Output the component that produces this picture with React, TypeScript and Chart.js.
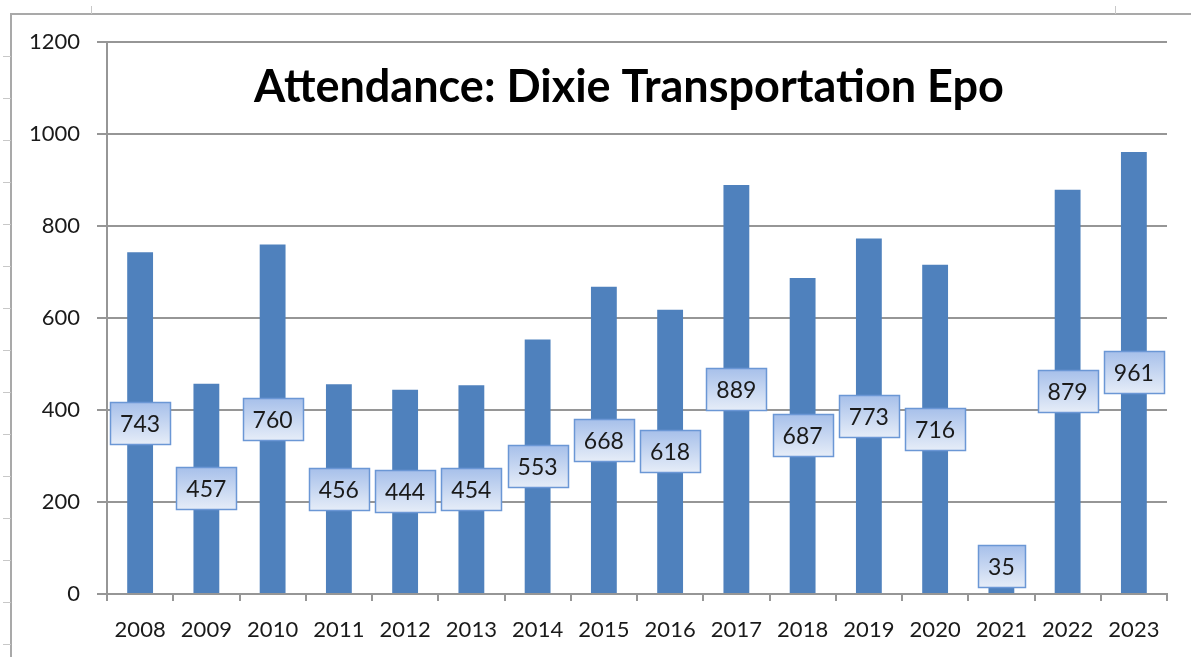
import React, { useEffect, useRef } from "react";
import { Chart, registerables } from "chart.js";

Chart.register(...registerables);

const years: string[] = ["2008", "2009", "2010", "2011", "2012", "2013", "2014", "2015", "2016", "2017", "2018", "2019", "2020", "2021", "2022", "2023"];
const attendance: number[] = [743, 457, 760, 456, 444, 454, 553, 668, 618, 889, 687, 773, 716, 35, 879, 961];
const chartTitle = "Attendance: Dixie Transportation Epo";

const FONT = "Lato, Carlito, Calibri, 'Open Sans', sans-serif";

const framePlugin = {
  id: "frame",
  beforeDraw(chart: any) {
    const ctx = chart.ctx;
    ctx.save();
    ctx.fillStyle = "#ffffff";
    ctx.fillRect(0, 0, chart.width, chart.height);
    ctx.strokeStyle = "#a9a9a9";
    ctx.lineWidth = 2;
    ctx.beginPath();
    ctx.moveTo(11, chart.height);
    ctx.lineTo(11, 14);
    ctx.lineTo(chart.width, 14);
    ctx.stroke();
    ctx.strokeStyle = "#c8c8c8";
    ctx.lineWidth = 1;
    ctx.beginPath();
    for (let y = 56; y < chart.height; y += 42) {
      ctx.moveTo(3, y + 0.5);
      ctx.lineTo(11, y + 0.5);
    }
    [91, 1115].forEach((x) => {
      ctx.moveTo(x + 0.5, 6);
      ctx.lineTo(x + 0.5, 14);
    });
    ctx.stroke();
    ctx.restore();
  },
};

const titlePlugin = {
  id: "overlayTitle",
  afterDraw(chart: any) {
    const ctx = chart.ctx;
    const a = chart.chartArea;
    ctx.save();
    ctx.font = `bold 45px ${FONT}`;
    ctx.fillStyle = "#000000";
    ctx.textAlign = "center";
    ctx.textBaseline = "alphabetic";
    ctx.fillText(chartTitle, (a.left + a.right) / 2 - 8, a.top + 60);
    ctx.restore();
  },
};

const labelPlugin = {
  id: "boxLabels",
  afterDatasetsDraw(chart: any) {
    const ctx = chart.ctx;
    const meta = chart.getDatasetMeta(0);
    const data = chart.data.datasets[0].data as number[];
    ctx.save();
    ctx.font = `23px ${FONT}`;
    meta.data.forEach((bar: any, i: number) => {
      const text = String(data[i]);
      const tw = ctx.measureText(text).width;
      const w = Math.round(tw + 20);
      const h = 42;
      let cy = (bar.y + bar.base) / 2;
      if (cy + h / 2 > bar.base - 6) cy = bar.base - 6 - h / 2;
      const x0 = Math.round(bar.x - w / 2) + 0.5;
      const y0 = Math.round(cy - h / 2) + 0.5;
      const g = ctx.createLinearGradient(0, y0, 0, y0 + h);
      g.addColorStop(0, "#a7c0ea");
      g.addColorStop(1, "#e6edf8");
      ctx.fillStyle = g;
      ctx.fillRect(x0, y0, w, h);
      ctx.strokeStyle = "#6b97d5";
      ctx.lineWidth = 1.5;
      ctx.strokeRect(x0, y0, w, h);
      ctx.fillStyle = "#1a1a1a";
      ctx.textAlign = "center";
      ctx.textBaseline = "middle";
      ctx.fillText(text, bar.x, y0 + h / 2 + 1);
    });
    ctx.restore();
  },
};

export default function App() {
  const ref = useRef<HTMLCanvasElement | null>(null);
  useEffect(() => {
    document.body.style.margin = "0";
    if (!ref.current) return;
    const chart = new Chart(ref.current, {
      type: "bar",
      data: {
        labels: years,
        datasets: [
          {
            data: attendance,
            backgroundColor: "#4f81bd",
            borderWidth: 0,
            categoryPercentage: 1,
            barPercentage: 0.39,
          },
        ],
      },
      options: {
        animation: false,
        responsive: false,
        devicePixelRatio: 1,
        layout: { padding: { top: 42, right: 24, left: 0, bottom: 0 } },
        plugins: {
          legend: { display: false },
          title: { display: false },
          tooltip: { enabled: false },
        },
        scales: {
          x: {
            offset: true,
            grid: {
              offset: true,
              drawOnChartArea: false,
              drawTicks: true,
              tickLength: 7,
              color: "#969696",
              lineWidth: 2,
            },
            border: { display: true, color: "#969696", width: 2 },
            ticks: {
              color: "#1a1a1a",
              font: { family: FONT, size: 22 },
              padding: 16,
              maxRotation: 0,
              autoSkip: false,
            },
            afterFit(scale: any) {
              scale.height = 63;
            },
          },
          y: {
            min: 0,
            max: 1200,
            grid: {
              color: "#969696",
              lineWidth: 2,
              drawTicks: true,
              tickLength: 10,
            },
            border: { display: true, color: "#969696", width: 2 },
            ticks: {
              stepSize: 200,
              color: "#1a1a1a",
              font: { family: FONT, size: 22 },
              padding: 17,
              callback: (v: any) => String(v),
            },
            afterFit(scale: any) {
              scale.width = 107;
            },
          },
        },
      },
      plugins: [framePlugin, titlePlugin, labelPlugin],
    });
    return () => chart.destroy();
  }, []);
  return (
    <div style={{ position: "absolute", left: 0, top: 0, width: 1191, height: 657 }}>
      <canvas ref={ref} width={1191} height={657} style={{ width: 1191, height: 657, display: "block" }} />
    </div>
  );
}
